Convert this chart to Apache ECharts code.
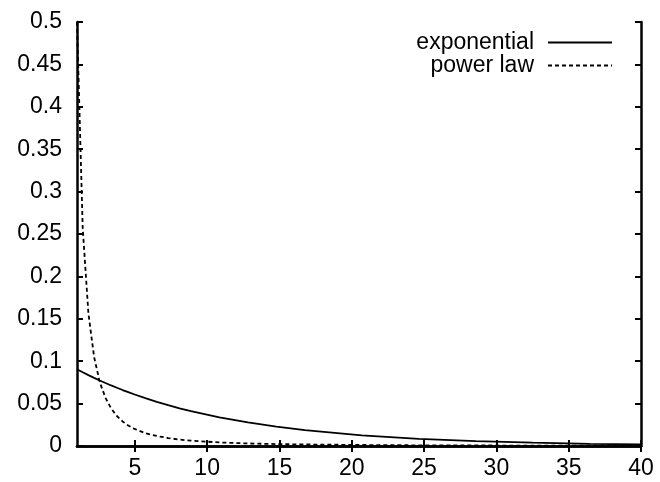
<!DOCTYPE html>
<html>
<head>
<meta charset="utf-8">
<script src="https://cdn.jsdelivr.net/npm/echarts@6/dist/echarts.min.js"></script>
<style>
  html, body { margin: 0; padding: 0; background: #fff; }
  #chart { width: 660px; height: 482px; }
</style>
</head>
<body>
<div id="chart"></div>
<script>
// Sample positions along x
const xs = [1.000, 1.394, 1.788, 2.182, 2.576, 2.970, 3.364, 3.758, 4.152, 4.545,
            4.939, 5.727, 6.515, 7.303, 8.091, 8.879, 10.848, 12.818, 14.788, 16.758,
            20.697, 24.636, 28.576, 32.515, 36.455, 40.000];
// Exponential distribution density
const exponential = [0.0905, 0.0870, 0.0836, 0.0804, 0.0773, 0.0743, 0.0714, 0.0687, 0.0660, 0.0635,
                     0.0610, 0.0564, 0.0521, 0.0482, 0.0445, 0.0412, 0.0338, 0.0278, 0.0228, 0.0187,
                     0.0126, 0.0085, 0.0057, 0.0039, 0.0026, 0.0018];
// Power-law density
const powerLaw = [0.5000, 0.2573, 0.1564, 0.1050, 0.0753, 0.0567, 0.0442, 0.0354, 0.0290, 0.0242,
                  0.0205, 0.0152, 0.0118, 0.0094, 0.0076, 0.0063, 0.0042, 0.0030, 0.0023, 0.0018,
                  0.0012, 0.0008, 0.0006, 0.0005, 0.0004, 0.0003];
const xTicks = [5, 10, 15, 20, 25, 30, 35, 40];
const seriesNames = ['exponential', 'power law'];

const FONT = 'Liberation Sans, Arial, sans-serif';
const FONT_SIZE = 23;
const chart = echarts.init(document.getElementById('chart'), null, { renderer: 'canvas' });

const frameLine = { show: true, lineStyle: { color: '#000', width: 2.5 } };
const tickIn = { show: true, inside: true, length: 6, lineStyle: { color: '#000', width: 2 } };

chart.setOption({
  animation: false,
  backgroundColor: '#fff',
  grid: { left: 77, right: 19, top: 22, bottom: 36, containLabel: false },
  legend: {
    orient: 'vertical',
    right: 42,
    top: 26,
    align: 'right',
    itemWidth: 64,
    itemHeight: 14,
    itemGap: 0,
    itemStyle: { opacity: 0 },
    textStyle: { fontFamily: FONT, fontSize: FONT_SIZE, color: '#000', padding: [0, 9, 0, 0] },
    data: seriesNames
  },
  xAxis: [
    {
      type: 'value', min: 1, max: 40, position: 'bottom',
      axisLine: frameLine,
      axisTick: Object.assign({}, tickIn, { customValues: xTicks }),
      axisLabel: { customValues: xTicks, color: '#000', fontFamily: FONT, fontSize: FONT_SIZE, margin: 11 },
      splitLine: { show: false }
    },
    {
      type: 'value', min: 1, max: 40, position: 'top',
      axisLine: frameLine,
      axisTick: Object.assign({}, tickIn, { customValues: xTicks }),
      axisLabel: { show: false },
      splitLine: { show: false }
    }
  ],
  yAxis: [
    {
      type: 'value', min: 0, max: 0.5, interval: 0.05, position: 'left',
      axisLine: frameLine,
      axisTick: tickIn,
      axisLabel: { color: '#000', fontFamily: FONT, fontSize: FONT_SIZE, margin: 15 },
      splitLine: { show: false }
    },
    {
      type: 'value', min: 0, max: 0.5, interval: 0.05, position: 'right',
      axisLine: frameLine,
      axisTick: tickIn,
      axisLabel: { show: false },
      splitLine: { show: false }
    }
  ],
  series: [
    {
      name: seriesNames[0], type: 'line', symbol: 'none',
      data: xs.map((x, i) => [x, exponential[i]]),
      lineStyle: { color: '#000', width: 1.8, type: 'solid' },
      itemStyle: { color: '#000' }
    },
    {
      name: seriesNames[1], type: 'line', symbol: 'none',
      data: xs.map((x, i) => [x, powerLaw[i]]),
      lineStyle: { color: '#000', width: 1.8, type: [4, 3] },
      itemStyle: { color: '#000' }
    }
  ]
});
</script>
</body>
</html>
